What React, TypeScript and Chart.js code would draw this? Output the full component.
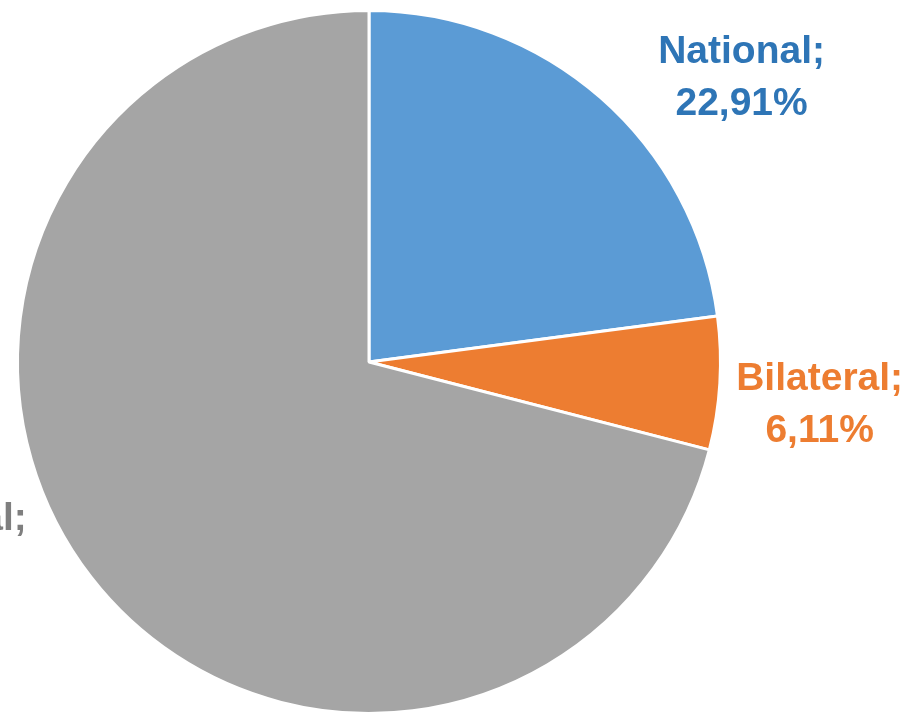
import React, { useEffect, useRef } from "react";
import { Chart, registerables } from "chart.js";

Chart.register(...registerables);

const categories = ["National", "Bilateral", "Multilateral"];
const shares = [22.91, 6.11, 70.98];
const shareLabels = ["22,91%", "6,11%", "70,98%"];
const sliceColors = ["#5b9bd5", "#ed7d31", "#a5a5a5"];
const textColors = ["#2e75b6", "#ed7d31", "#7f7f7f"];

// label anchor offsets as fractions of the pie radius (relative to centre)
const labelOffsets = [
  { dx: 1.06, dy: -0.852 },
  { dx: 1.282, dy: 0.08 },
  { dx: -1.285, dy: 0.479 },
];

const labelPlugin = {
  id: "sliceLabels",
  afterDatasetsDraw(chart: any) {
    const meta = chart.getDatasetMeta(0);
    const ctx = chart.ctx;
    ctx.save();
    ctx.font = "bold 39px 'Liberation Sans', Arial, sans-serif";
    ctx.textAlign = "center";
    ctx.textBaseline = "alphabetic";
    meta.data.forEach((arc: any, i: number) => {
      const r = arc.outerRadius;
      const x = arc.x + labelOffsets[i].dx * r;
      const y = arc.y + labelOffsets[i].dy * r;
      ctx.fillStyle = textColors[i];
      ctx.fillText(categories[i] + ";", x, y);
      ctx.fillText(shareLabels[i], x, y + 52);
    });
    ctx.restore();
  },
};

export default function App() {
  const ref = useRef<HTMLCanvasElement>(null);
  useEffect(() => {
    if (!ref.current) return;
    const chart = new Chart(ref.current, {
      type: "pie",
      data: {
        labels: categories,
        datasets: [
          {
            data: shares,
            backgroundColor: sliceColors,
            borderColor: "#ffffff",
            borderWidth: 3,
            hoverOffset: 0,
            offset: 0,
          },
        ],
      },
      options: {
        responsive: false,
        animation: false,
        devicePixelRatio: 1,
        layout: { padding: { left: 16, right: 193, top: 9, bottom: 15 } },
        plugins: {
          legend: { display: false },
          tooltip: { enabled: false },
        },
      },
      plugins: [labelPlugin],
    });
    return () => chart.destroy();
  }, []);
  return (
    <div
      style={{
        position: "fixed",
        left: 0,
        top: 0,
        width: 915,
        height: 712,
        overflow: "hidden",
        background: "#ffffff",
      }}
    >
      <canvas ref={ref} width={915} height={730} style={{ width: 915, height: 730, display: "block" }} />
    </div>
  );
}
